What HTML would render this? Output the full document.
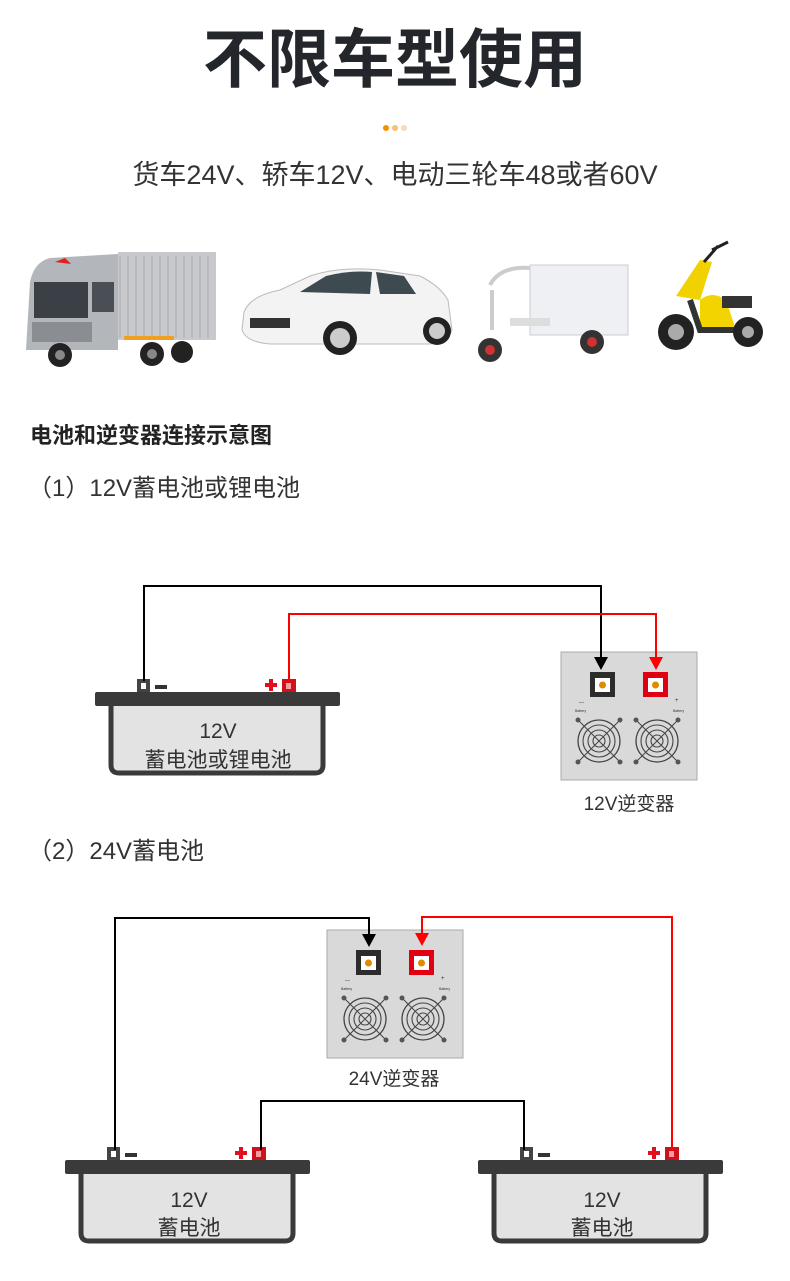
<!DOCTYPE html>
<html><head><meta charset="utf-8"><style>
html,body{margin:0;padding:0;background:#fff;}
svg{display:block;}
text{font-family:"Liberation Sans","Noto Sans CJK SC",sans-serif;}
</style></head><body>
<svg width="790" height="1281" viewBox="0 0 790 1281" xmlns="http://www.w3.org/2000/svg">
<defs>
<g id="fan">
<circle r="21" fill="none" stroke="#444" stroke-width="1.3"/>
<circle r="16" fill="none" stroke="#444" stroke-width="1.1"/>
<circle r="11" fill="none" stroke="#444" stroke-width="1.1"/>
<circle r="6" fill="none" stroke="#444" stroke-width="1.1"/>
<path d="M-20,-20 L20,20 M20,-20 L-20,20" stroke="#444" stroke-width="1"/>
<circle cx="-21" cy="-21" r="2.5" fill="#555"/><circle cx="21" cy="-21" r="2.5" fill="#555"/>
<circle cx="-21" cy="21" r="2.5" fill="#555"/><circle cx="21" cy="21" r="2.5" fill="#555"/>
</g>
<g id="inv">
<rect x="0" y="0" width="136" height="128" fill="#d9d9d9" stroke="#aaa" stroke-width="1"/>
<rect x="29" y="20" width="25" height="25" fill="#2c2c2c"/>
<rect x="34" y="26" width="15" height="14" fill="#fff"/>
<circle cx="41.5" cy="33" r="3.5" fill="#e08a00"/>
<rect x="82" y="20" width="25" height="25" fill="#e00012"/>
<rect x="87" y="26" width="15" height="14" fill="#fff"/>
<circle cx="94.5" cy="33" r="3.5" fill="#e08a00"/>
<text x="18" y="52" font-size="5" fill="#333">—</text>
<text x="14" y="60" font-size="3.5" fill="#333">Battery</text>
<text x="114" y="50" font-size="6" fill="#333">+</text>
<text x="112" y="60" font-size="3.5" fill="#333">Battery</text>
<use href="#fan" x="38" y="89"/>
<use href="#fan" x="96" y="89"/>
</g>
<g id="bat">
<rect x="42" y="-13" width="13" height="14" fill="#444"/>
<rect x="46" y="-9" width="5" height="6" fill="#fff"/>
<rect x="60" y="-7" width="12" height="4" fill="#333"/>
<rect x="187" y="-13" width="14" height="14" fill="#d0101a"/>
<rect x="191" y="-9" width="5" height="6" fill="#f0a0a0"/>
<path d="M170,-7 h12 M176,-13 v12" stroke="#e01020" stroke-width="4"/>
<rect x="0" y="0" width="245" height="14" rx="2" fill="#3a3a3a"/>
<path d="M16,14 V73 Q16,81 24,81 H220 Q228,81 228,73 V14" fill="#e3e3e3" stroke="#3a3a3a" stroke-width="5"/>
</g>
</defs>

<text x="395" y="82" font-size="64" font-weight="bold" fill="#23262b" text-anchor="middle">不限车型使用</text>
<circle cx="386" cy="128" r="3" fill="#f39000"/>
<circle cx="395" cy="128" r="3" fill="#f6c07a"/>
<circle cx="404" cy="128" r="3" fill="#f9dcb6"/>
<text x="395" y="184" font-size="27" fill="#333" text-anchor="middle">货车24V、轿车12V、电动三轮车48或者60V</text>

<g>
<rect x="118" y="252" width="98" height="88" fill="#c7c9cd"/>
<path d="M120,256 V338 M128,256 V338 M136,256 V338 M144,256 V338 M152,256 V338 M160,256 V338 M168,256 V338 M176,256 V338 M184,256 V338 M192,256 V338 M200,256 V338 M208,256 V338" stroke="#a8abb0" stroke-width="1"/>
<path d="M30,282 Q34,262 50,258 L118,254 V350 H26 Z" fill="#b3b6bb"/>
<rect x="34" y="282" width="54" height="36" fill="#3b4046"/>
<rect x="92" y="282" width="22" height="30" fill="#4a4f55"/>
<rect x="32" y="322" width="60" height="20" fill="#8a8d92"/>
<path d="M55,262 l10,-4 l6,6 z" fill="#e02020"/>
<circle cx="60" cy="355" r="12" fill="#222"/><circle cx="60" cy="355" r="5" fill="#888"/>
<circle cx="152" cy="354" r="12" fill="#222"/><circle cx="152" cy="354" r="5" fill="#888"/>
<circle cx="182" cy="352" r="11" fill="#222"/>
<rect x="124" y="336" width="50" height="4" fill="#f0a020"/>
</g>
<g>
<path d="M244,312 Q250,296 280,290 L310,276 Q340,266 380,270 L420,276 Q440,286 448,300 L452,330 Q448,342 430,344 H270 Q246,342 242,330 Z" fill="#f3f3f3" stroke="#bbb"/>
<path d="M300,292 L326,276 Q350,270 372,272 L370,294 Z" fill="#3d4a50"/>
<path d="M376,272 L404,276 L416,294 L380,294 Z" fill="#3d4a50"/>
<rect x="250" y="318" width="40" height="10" fill="#333"/>
<circle cx="340" cy="338" r="17" fill="#222"/><circle cx="340" cy="338" r="10" fill="#ccc"/>
<circle cx="437" cy="331" r="14" fill="#222"/><circle cx="437" cy="331" r="8" fill="#ccc"/>
</g>
<g>
<rect x="530" y="265" width="98" height="70" fill="#eef0f3" stroke="#c9ccd0"/>
<path d="M490,285 Q500,266 530,268 M492,290 V330" stroke="#ccc" stroke-width="4" fill="none"/>
<rect x="510" y="318" width="40" height="8" fill="#ddd"/>
<circle cx="490" cy="350" r="12" fill="#333"/><circle cx="490" cy="350" r="5" fill="#c33"/>
<circle cx="592" cy="342" r="12" fill="#333"/><circle cx="592" cy="342" r="5" fill="#c33"/>
</g>
<g>
<path d="M700,300 Q712,290 726,300 L736,330 H700 Z" fill="#f3d400"/>
<path d="M676,296 L700,260 L712,262 L700,300 Z" fill="#f1d100"/>
<path d="M690,300 L700,330 H740" stroke="#333" stroke-width="6" fill="none"/>
<rect x="722" y="296" width="30" height="12" fill="#333"/>
<circle cx="676" cy="332" r="18" fill="#222"/><circle cx="676" cy="332" r="8" fill="#aaa"/>
<circle cx="748" cy="332" r="15" fill="#222"/><circle cx="748" cy="332" r="6" fill="#aaa"/>
<path d="M704,262 L718,246 M712,250 L728,242" stroke="#222" stroke-width="3"/>
</g>

<text x="30" y="443" font-size="22" font-weight="bold" fill="#222">电池和逆变器连接示意图</text>
<text x="28" y="496" font-size="24" fill="#333">（1）12V蓄电池或锂电池</text>

<use href="#inv" x="561" y="652"/>
<use href="#bat" x="95" y="692"/>
<text x="218" y="738" font-size="21" fill="#333" text-anchor="middle">12V</text>
<text x="218" y="767" font-size="21" fill="#333" text-anchor="middle">蓄电池或锂电池</text>
<text x="629" y="810" font-size="19" fill="#333" text-anchor="middle">12V逆变器</text>

<path d="M144,681 V586 H601 V660" stroke="#000" stroke-width="2" fill="none"/>
<path d="M594,657 L608,657 L601,670 Z" fill="#000"/>
<path d="M289,681 V614 H656 V660" stroke="#f00" stroke-width="2" fill="none"/>
<path d="M649,657 L663,657 L656,670 Z" fill="#f00"/>

<text x="28" y="859" font-size="24" fill="#333">（2）24V蓄电池</text>

<use href="#inv" x="327" y="930"/>
<text x="394" y="1085" font-size="19" fill="#333" text-anchor="middle">24V逆变器</text>
<use href="#bat" x="65" y="1160"/>
<use href="#bat" x="478" y="1160"/>
<text x="189" y="1207" font-size="21" fill="#333" text-anchor="middle">12V</text>
<text x="189" y="1235" font-size="21" fill="#333" text-anchor="middle">蓄电池</text>
<text x="602" y="1207" font-size="21" fill="#333" text-anchor="middle">12V</text>
<text x="602" y="1235" font-size="21" fill="#333" text-anchor="middle">蓄电池</text>

<path d="M115,1150 V918 H369 V936" stroke="#000" stroke-width="2" fill="none"/>
<path d="M362,934 L376,934 L369,947 Z" fill="#000"/>
<path d="M672,1150 V917 H422 V935" stroke="#f00" stroke-width="2" fill="none"/>
<path d="M415,933 L429,933 L422,946 Z" fill="#f00"/>
<path d="M261,1150 V1101 H524 V1150" stroke="#000" stroke-width="2" fill="none"/>
</svg>
</body></html>
